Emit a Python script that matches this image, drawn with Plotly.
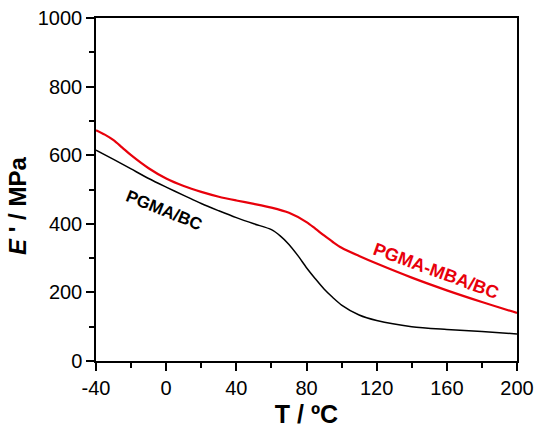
import plotly.graph_objects as go

temp_black = [-40, -30, -20, -10, 0, 10, 20, 30, 40, 50, 60, 65, 70, 75, 80, 85, 90, 95, 100, 110, 120, 140, 160, 180, 200]
e_black = [615, 588, 560, 532, 507, 483, 459, 438, 418, 400, 383, 365, 340, 308, 272, 240, 210, 185, 163, 134, 118, 100, 92, 86, 79]

temp_red = [-40, -35, -30, -25, -20, -10, 0, 10, 20, 30, 40, 50, 60, 70, 80, 85, 90, 95, 100, 110, 120, 140, 160, 180, 200]
e_red = [673, 660, 644, 622, 600, 562, 532, 510, 493, 479, 468, 458, 447, 432, 405, 386, 366, 347, 330, 306, 284, 243, 206, 172, 140]

x_ticks = [-40, 0, 40, 80, 120, 160, 200]
x_ticktext = ["-40", "0", "40", "80", "120", "160", "200"]
y_ticks = [0, 200, 400, 600, 800, 1000]

FONT = "Liberation Sans, Arial"

fig = go.Figure()
fig.add_trace(go.Scatter(x=temp_black, y=e_black, mode="lines",
                         line=dict(color="black", width=1.5, shape="spline", smoothing=0.8)))
fig.add_trace(go.Scatter(x=temp_red, y=e_red, mode="lines",
                         line=dict(color="#e8000b", width=2.2, shape="spline", smoothing=0.8)))

fig.add_annotation(x=-1, y=440, text="<b>PGMA/BC</b>", showarrow=False, textangle=22,
                   xanchor="center", yanchor="middle",
                   font=dict(family=FONT, size=17, color="black"))
fig.add_annotation(x=154, y=262, text="<b>PGMA-MBA/BC</b>", showarrow=False, textangle=20,
                   xanchor="center", yanchor="middle",
                   font=dict(family=FONT, size=18, color="#e8000b"))

# y axis title placed as annotation (offset below axis centre as in the reference)
fig.add_annotation(xref="paper", x=0, xshift=-78, y=452, yref="y",
                   xanchor="center", yanchor="middle",
                   text="<b><i>E</i> ' / MPa</b>", showarrow=False, textangle=-90,
                   font=dict(family=FONT, size=24, color="black"))

axis_common = dict(showgrid=False, zeroline=False, showline=True, linecolor="black", linewidth=1.5,
                   mirror=True, ticks="outside", ticklen=8, tickwidth=1.5, tickcolor="black",
                   automargin=False,
                   tickfont=dict(family=FONT, size=20, color="black"))

fig.update_xaxes(range=[-40, 200], tickvals=x_ticks, ticktext=x_ticktext,
                 minor=dict(tickvals=[-20, 20, 60, 100, 140, 180], ticks="outside", ticklen=5,
                            tickwidth=1.5, tickcolor="black"),
                 title=dict(text="<b>T / ºC</b>", font=dict(family=FONT, size=25, color="black"),
                            standoff=8),
                 **axis_common)
fig.update_yaxes(range=[0, 1000], tickvals=y_ticks,
                 minor=dict(tickvals=[100, 300, 500, 700, 900], ticks="outside", ticklen=5,
                            tickwidth=1.5, tickcolor="black"),
                 **axis_common)

fig.update_layout(width=537, height=431, showlegend=False,
                  plot_bgcolor="white", paper_bgcolor="white",
                  margin=dict(l=96, r=20, t=18, b=70))
fig.write_html("out.html", config={"displayModeBar": False},
               post_script="document.body.style.margin='0';document.body.style.overflow='hidden';")
